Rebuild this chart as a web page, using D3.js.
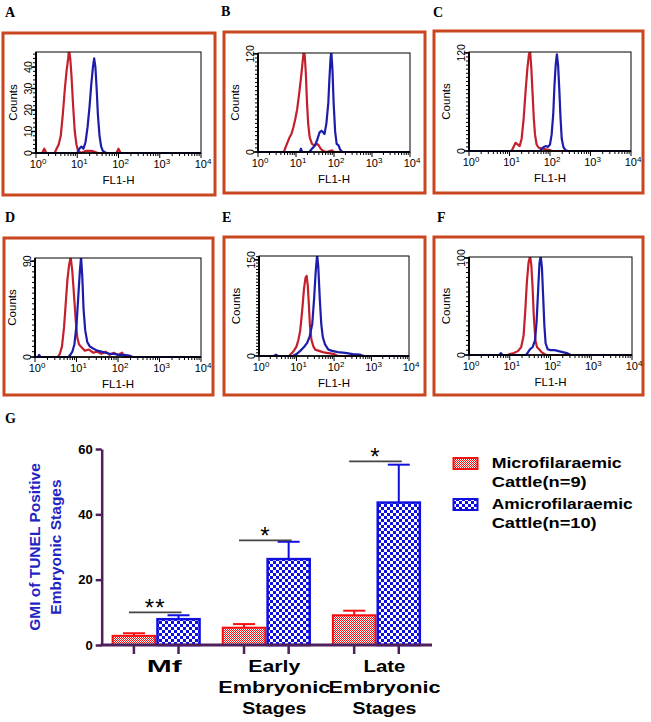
<!DOCTYPE html>
<html><head><meta charset="utf-8">
<script src="https://cdn.jsdelivr.net/npm/d3@7"></script>
<style>body{margin:0;background:#fff}svg{display:block}</style>
</head><body><svg id="c" width="651" height="722"></svg>
<script>
// ---------------- DATA ----------------
// Flow cytometry histograms: [log10(FL1-H), Counts]
const redA  = [[0,0],[0.15,0],[0.2,2],[0.25,0],[0.45,0],[0.5,2],[0.55,4],[0.6,8],[0.65,18],[0.7,30],[0.74,38],[0.78,44],[0.8,48],[0.83,44],[0.86,36],[0.9,22],[0.94,10],[0.98,4],[1.02,1],[1.1,0],[1.2,1],[1.35,1],[1.5,0],[1.95,0],[2.0,2],[2.05,0],[4,0]];
const blueA = [[0,0],[1.0,0],[1.05,2],[1.1,3],[1.15,2],[1.2,5],[1.25,12],[1.3,22],[1.34,32],[1.38,40],[1.41,44],[1.44,40],[1.47,30],[1.5,18],[1.54,8],[1.58,3],[1.62,1],[1.7,0],[4,0]];
const redB  = [[0,0],[0.68,0],[0.72,5],[0.78,12],[0.83,18],[0.88,22],[0.93,30],[0.98,40],[1.03,52],[1.08,70],[1.13,90],[1.17,108],[1.2,122],[1.23,118],[1.26,95],[1.29,60],[1.32,35],[1.36,18],[1.42,10],[1.48,8],[1.55,10],[1.6,8],[1.65,4],[1.72,1],[1.8,0],[1.95,2],[2.0,0],[4,0]];
const blueB = [[0,0],[1.1,0],[1.13,4],[1.16,0],[1.35,0],[1.42,4],[1.5,8],[1.56,15],[1.62,24],[1.67,26],[1.71,24],[1.75,22],[1.8,35],[1.85,60],[1.88,90],[1.91,115],[1.93,122],[1.96,100],[1.99,60],[2.03,25],[2.07,10],[2.12,8],[2.16,3],[2.22,0],[4,0]];
const redC  = [[0,0],[1.05,0],[1.1,5],[1.15,10],[1.2,8],[1.25,6],[1.3,15],[1.35,40],[1.4,75],[1.44,100],[1.48,118],[1.51,122],[1.54,100],[1.57,70],[1.6,40],[1.63,20],[1.67,8],[1.72,4],[1.8,3],[1.9,2],[2.0,1],[2.05,0],[4,0]];
const blueC = [[0,0],[1.75,0],[1.8,3],[1.85,5],[1.9,6],[1.95,5],[2.0,8],[2.04,20],[2.08,45],[2.11,80],[2.14,105],[2.17,118],[2.2,105],[2.23,75],[2.26,40],[2.29,15],[2.33,5],[2.38,1],[2.45,0],[4,0]];
const redD  = [[0,0],[0.55,0],[0.6,3],[0.65,10],[0.7,28],[0.74,50],[0.78,72],[0.82,86],[0.86,94],[0.9,80],[0.94,58],[0.98,35],[1.02,18],[1.06,12],[1.1,10],[1.15,8],[1.2,6],[1.3,7],[1.4,4],[1.5,5],[1.6,3],[1.7,5],[1.8,2],[1.9,4],[2.0,2],[2.1,4],[2.15,0],[4,0]];
const blueD = [[0,0],[0.07,0],[0.1,2],[0.13,0],[0.8,0],[0.85,2],[0.9,5],[0.95,12],[1.0,30],[1.04,55],[1.08,80],[1.11,94],[1.14,75],[1.17,45],[1.21,25],[1.26,14],[1.32,10],[1.4,8],[1.5,6],[1.6,5],[1.7,4],[1.8,3],[1.9,3],[2.0,2],[2.15,2],[2.3,1],[2.35,0],[4,0]];
const redE  = [[0,0],[0.8,0],[0.85,3],[0.9,6],[0.95,10],[1.0,15],[1.05,25],[1.1,40],[1.15,70],[1.2,105],[1.24,122],[1.27,125],[1.3,110],[1.33,80],[1.36,45],[1.4,25],[1.45,15],[1.5,10],[1.6,8],[1.7,6],[1.8,5],[1.9,4],[2.0,3],[2.1,0],[4,0]];
const blueE = [[0,0],[0.4,0],[0.45,2],[0.5,0],[0.9,0],[1.0,3],[1.1,8],[1.2,14],[1.28,20],[1.35,30],[1.42,50],[1.47,90],[1.51,130],[1.55,158],[1.58,140],[1.62,90],[1.66,50],[1.7,30],[1.76,18],[1.85,10],[1.95,8],[2.1,6],[2.3,5],[2.5,3],[2.7,2],[2.8,0],[4,0]];
const redF  = [[0,0],[0.95,0],[1.0,1],[1.1,2],[1.2,4],[1.28,8],[1.34,20],[1.38,45],[1.42,75],[1.46,95],[1.5,102],[1.53,92],[1.56,70],[1.59,40],[1.63,15],[1.67,8],[1.72,6],[1.78,3],[1.85,1],[1.9,0],[4,0]];
const blueF = [[0,0],[0.75,0],[0.78,2],[0.82,0],[1.4,0],[1.45,3],[1.5,6],[1.56,8],[1.62,15],[1.66,35],[1.7,70],[1.73,95],[1.76,102],[1.79,90],[1.82,60],[1.85,30],[1.88,12],[1.93,6],[2.0,5],[2.1,5],[2.2,4],[2.3,3],[2.4,2],[2.5,0],[4,0]];

const panelLetters = ["A","B","C","D","E","F"];
const countTicks = [[0,10,20,30,40],[0,120],[0,120],[0,90],[0,150],[0,100]];
const countMax = [47,121,121,93,156,101];
const decadeExps = [0,1,2,3,4];
const xTitle = "FL1-H";
const yTitle = "Counts";

// Bar chart (panel G)
const categories = ["Mf","Early Embryonic Stages","Late Embryonic Stages"];
const categoryLines = [["Mf"],["Early","Embryonic","Stages"],["Late","Embryonic","Stages"]];
const seriesNames = ["Microfilaraemic Cattle(n=9)","Amicrofilaraemic Cattle(n=10)"];
const legendLines = [["Microfilaraemic","Cattle(n=9)"],["Amicrofilaraemic","Cattle(n=10)"]];
const microMean = [2.8, 5.3, 9.1];
const microErr  = [0.8, 1.1, 1.4];
const amicroMean = [7.9, 26.3, 43.6];
const amicroErr  = [1.2, 5.3, 11.6];
const sigLabels = ["**","*","*"];
const sigLevel  = [10.0, 32.0, 56.2];
const gTicks = [0,20,40,60];
const gYTitle = ["GMI of TUNEL Positive","Embryonic Stages"];

// ---------------- LAYOUT ----------------
const svg = d3.select("#c");
const defs = svg.append("defs");
const FONT = "'Liberation Sans', Arial, sans-serif";
const frames = [[3,33,212,162],[224,32,201,161],[434,31,209,162],[4,238,209,157],[224,237,201,158],[434,237,209,158]];
const plots  = [[36,52,165,101],[258,53,152,99],[469,52,162,99],[35,258,166,99],[259,256,150,100],[469,257,163,98]];
const letterPos = [[5,17],[221,16],[433,17],[5,222],[222,222],[437,222]];
const minorSteps = [2,5,5,5,5,5];
const reds = [redA,redB,redC,redD,redE,redF];
const blues = [blueA,blueB,blueC,blueD,blueE,blueF];

panelLetters.forEach((L,i)=>{
  const [fx,fy,fw,fh] = frames[i];
  const [px,py,pw,ph] = plots[i];
  const g = svg.append("g");
  g.append("text").attr("x",letterPos[i][0]).attr("y",letterPos[i][1])
    .attr("font-family","'Liberation Serif', 'Times New Roman', serif").attr("font-weight","bold")
    .attr("font-size",14).text(L);
  g.append("rect").attr("x",fx).attr("y",fy).attr("width",fw).attr("height",fh)
    .attr("fill","none").attr("stroke","#c9461e").attr("stroke-width",3);

  const x = d3.scaleLog().domain([1,1e4]).range([px,px+pw]);
  const y = d3.scaleLinear().domain([0,countMax[i]]).range([py+ph,py]);

  const cid = "clip"+i;
  defs.append("clipPath").attr("id",cid).append("rect")
    .attr("x",px).attr("y",py).attr("width",pw).attr("height",ph+2);

  const line = d3.line().x(d=>x(Math.pow(10,d[0]))).y(d=>y(d[1]));
  const tr = g.append("g").attr("clip-path",`url(#${cid})`);
  tr.append("path").attr("d",line(reds[i])).attr("fill","none").attr("stroke","#c4202c").attr("stroke-width",2.2).attr("stroke-linejoin","round");
  tr.append("path").attr("d",line(blues[i])).attr("fill","none").attr("stroke","#1d1dab").attr("stroke-width",2.2).attr("stroke-linejoin","round");

  // box
  g.append("rect").attr("x",px).attr("y",py).attr("width",pw).attr("height",ph)
    .attr("fill","none").attr("stroke","#000").attr("stroke-width",1);
  g.append("line").attr("x1",px).attr("x2",px).attr("y1",py).attr("y2",py+ph).attr("stroke","#000").attr("stroke-width",2);
  g.append("line").attr("x1",px).attr("x2",px+pw).attr("y1",py+ph).attr("y2",py+ph).attr("stroke","#000").attr("stroke-width",1.5);

  // x ticks (log)
  const xt = [];
  for (let k=0;k<4;k++) for (let m=1;m<10;m++) xt.push({v:m*Math.pow(10,k), major:m===1});
  xt.push({v:1e4, major:true});
  g.selectAll(".xt").data(xt).enter().append("line")
    .attr("x1",d=>x(d.v)).attr("x2",d=>x(d.v)).attr("y1",py+ph).attr("y2",d=>py+ph+(d.major?5:3))
    .attr("stroke","#000").attr("stroke-width",1);
  decadeExps.forEach(e=>{
    const t = g.append("text").attr("x",x(Math.pow(10,e))+2).attr("y",py+ph+15)
      .attr("text-anchor","middle").attr("font-family",FONT).attr("font-size",11);
    t.append("tspan").text("10");
    t.append("tspan").attr("dy",-4).attr("font-size",8).text(e);
  });
  g.append("text").attr("x",px+pw/2).attr("y",py+ph+31).attr("text-anchor","middle")
    .attr("font-family",FONT).attr("font-size",11.5).text(xTitle);

  // y ticks
  const yt = d3.range(0,countMax[i]+0.001,minorSteps[i]);
  g.selectAll(".yt").data(yt).enter().append("line")
    .attr("x1",px).attr("x2",px-3).attr("y1",d=>y(d)).attr("y2",d=>y(d))
    .attr("stroke","#000").attr("stroke-width",1);
  g.selectAll(".ytm").data(countTicks[i]).enter().append("line")
    .attr("x1",px).attr("x2",px-5).attr("y1",d=>y(d)).attr("y2",d=>y(d))
    .attr("stroke","#000").attr("stroke-width",1.5);
  g.selectAll(".ytl").data(countTicks[i]).enter().append("text")
    .attr("transform",d=>`translate(${px-4},${y(d)}) rotate(-90)`)
    .attr("text-anchor","middle").attr("font-family",FONT).attr("font-size",10.5).text(d=>d);
  g.append("text").attr("transform",`translate(${px-19},${py+ph/2}) rotate(-90)`)
    .attr("text-anchor","middle").attr("font-family",FONT).attr("font-size",11.5).text(yTitle);
});

// ---------------- PANEL G ----------------
svg.append("text").attr("x",5).attr("y",423)
  .attr("font-family","'Liberation Serif', 'Times New Roman', serif").attr("font-weight","bold")
  .attr("font-size",14).text("G");

const RED = "#f50f0f", BLUE = "#0f0fe0", AX = "#4f1f5c";
const pr = defs.append("pattern").attr("id","pRed").attr("patternUnits","userSpaceOnUse").attr("width",2).attr("height",2);
pr.append("rect").attr("width",2).attr("height",2).attr("fill","#fff");
pr.append("rect").attr("width",1).attr("height",1).attr("fill",RED);
pr.append("rect").attr("x",1).attr("y",1).attr("width",1).attr("height",1).attr("fill",RED);
const pb = defs.append("pattern").attr("id","pBlue").attr("patternUnits","userSpaceOnUse").attr("width",6).attr("height",6);
pb.append("rect").attr("width",6).attr("height",6).attr("fill","#fff");
pb.append("rect").attr("width",3).attr("height",3).attr("fill",BLUE);
pb.append("rect").attr("x",3).attr("y",3).attr("width",3).attr("height",3).attr("fill",BLUE);

const yG = d3.scaleLinear().domain([0,60]).range([645,449]);
const x0 = d3.scaleBand().domain(categories).range([101.7,431]).paddingInner(0.19).paddingOuter(0.09);
const x1 = d3.scaleBand().domain(seriesNames).range([0,x0.bandwidth()]);
const G = svg.append("g");

const barData = [];
categories.forEach((c,i)=>{
  barData.push({c, s:seriesNames[0], v:microMean[i], e:microErr[i], col:RED, fill:"url(#pRed)", sw:2});
  barData.push({c, s:seriesNames[1], v:amicroMean[i], e:amicroErr[i], col:BLUE, fill:"url(#pBlue)", sw:2.5});
});
// error bars
barData.forEach(d=>{
  const cx = x0(d.c)+x1(d.s)+x1.bandwidth()/2;
  G.append("line").attr("x1",cx).attr("x2",cx).attr("y1",yG(d.v)).attr("y2",yG(d.v+d.e)).attr("stroke",d.col).attr("stroke-width",2);
  G.append("line").attr("x1",cx-11).attr("x2",cx+11).attr("y1",yG(d.v+d.e)).attr("y2",yG(d.v+d.e)).attr("stroke",d.col).attr("stroke-width",2);
});
G.selectAll(".bar").data(barData).enter().append("rect")
  .attr("x",d=>x0(d.c)+x1(d.s)+d.sw/2).attr("y",d=>yG(d.v))
  .attr("width",d=>x1.bandwidth()-d.sw).attr("height",d=>yG(0)-yG(d.v))
  .attr("fill",d=>d.fill).attr("stroke",d=>d.col).attr("stroke-width",d=>d.sw);

// significance
categories.forEach((c,i)=>{
  const a = x0(c)+x1(seriesNames[0])+x1.bandwidth()/2-5;
  const b = x0(c)+x1(seriesNames[1])+x1.bandwidth()/2+3;
  G.append("line").attr("x1",a).attr("x2",b).attr("y1",yG(sigLevel[i])).attr("y2",yG(sigLevel[i]))
    .attr("stroke","#444").attr("stroke-width",1.8);
  G.append("text").attr("x",(a+b)/2).attr("y",yG(sigLevel[i])+4).attr("text-anchor","middle")
    .attr("font-family",FONT).attr("font-size",24).attr("letter-spacing",1).text(sigLabels[i]);
});

// axes
const yAxis = G.append("g").attr("transform","translate(101.7,0)")
  .call(d3.axisLeft(yG).tickValues(gTicks).tickSize(6).tickSizeOuter(0).tickPadding(3));
yAxis.select(".domain").attr("stroke",AX).attr("stroke-width",2.5);
yAxis.selectAll(".tick line").attr("stroke",AX).attr("stroke-width",2.5);
yAxis.selectAll(".tick text").attr("font-family",FONT).attr("font-weight","bold").attr("font-size",13).attr("fill","#000");

G.append("line").attr("x1",100.5).attr("x2",432).attr("y1",yG(0)).attr("y2",yG(0)).attr("stroke",AX).attr("stroke-width",3);
barData.forEach(d=>{
  const cx = x0(d.c)+x1(d.s)+x1.bandwidth()/2;
  G.append("line").attr("x1",cx).attr("x2",cx).attr("y1",yG(0)).attr("y2",yG(0)+9).attr("stroke",AX).attr("stroke-width",2.5);
});

// category labels
const lineW = {"Mf":35,"Early":52,"Late":42,"Embryonic":112,"Stages":64};
categories.forEach((c,i)=>{
  const cx = x0(c)+x0.bandwidth()/2+8;
  categoryLines[i].forEach((s,j)=>{
    G.append("text").attr("x",cx).attr("y",672+j*21).attr("text-anchor","middle")
      .attr("font-family",FONT).attr("font-weight","bold").attr("font-size",16)
      .attr("textLength",lineW[s]).attr("lengthAdjust","spacingAndGlyphs").text(s);
  });
});

// y title
gYTitle.forEach((s,j)=>{
  G.append("text").attr("transform",`translate(${40+j*21},547) rotate(-90)`).attr("text-anchor","middle")
    .attr("font-family",FONT).attr("font-weight","bold").attr("font-size",15.5).attr("fill","#2323c4").text(s);
});

// legend
const legW = [[130,95],[141,105]];
seriesNames.forEach((s,i)=>{
  const yy = 457+i*41;
  G.append("rect").attr("x",453.5).attr("y",yy+1).attr("width",24).attr("height",11)
    .attr("fill",i===0?"url(#pRed)":"url(#pBlue)").attr("stroke",i===0?RED:BLUE).attr("stroke-width",2);
  legendLines[i].forEach((t,j)=>{
    G.append("text").attr("x",491.7).attr("y",yy+11+j*19)
      .attr("font-family",FONT).attr("font-weight","bold").attr("font-size",15.5)
      .attr("textLength",legW[i][j]).attr("lengthAdjust","spacingAndGlyphs").text(t);
  });
});
</script></body></html>
